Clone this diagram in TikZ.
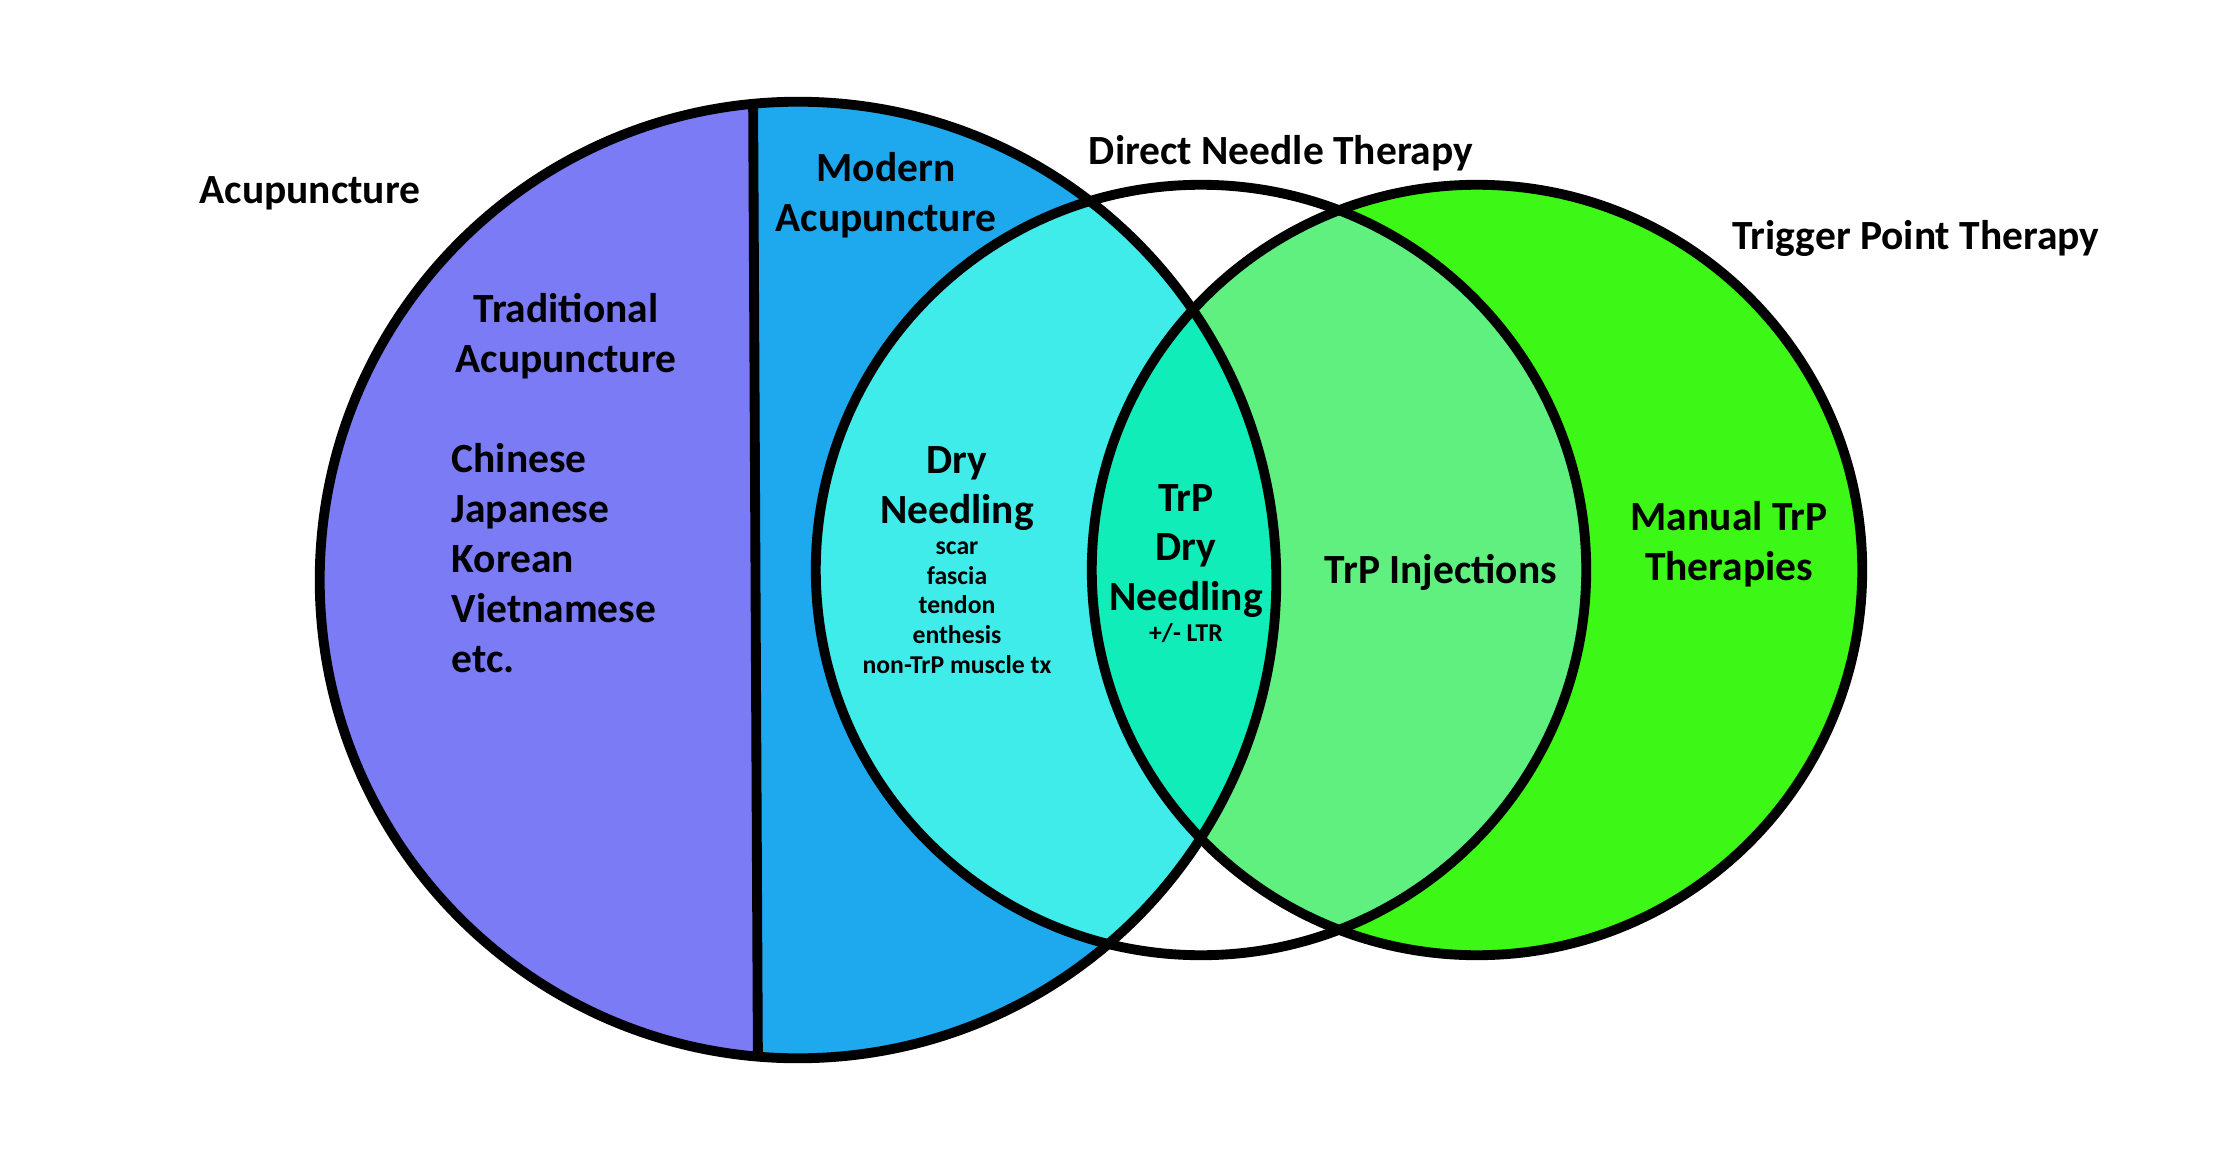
\documentclass[tikz,border=0pt]{standalone}
\usepackage{fontspec}
\setmainfont{Carlito}
\usetikzlibrary{positioning}
\definecolor{tradcol}{RGB}{123,123,245}
\definecolor{modcol}{RGB}{30,169,238}
\definecolor{dncol}{RGB}{64,236,234}
\definecolor{trpcol}{RGB}{16,237,185}
\definecolor{injcol}{RGB}{95,240,128}
\definecolor{tpcol}{RGB}{61,248,23}

\begin{document}
\begin{tikzpicture}[x=0.01cm,y=-0.01cm,
  outline/.style={draw=black,line width=2.8pt},
  heading/.style={font=\bfseries\fontsize{11.8}{14.2}\selectfont,align=center,inner sep=0pt},
  smalltext/.style={font=\bfseries\fontsize{7.3}{8.5}\selectfont,align=center,inner sep=0pt}]
\useasboundingbox (0,0) rectangle (2240,1149);
\coordinate (acu) at (798,580);
\coordinate (dnt) at (1201,570);
\coordinate (tpt) at (1477,570);
% acupuncture: traditional | modern
\begin{scope}
\clip (acu) circle[radius=4.78cm];
\fill[tradcol] (300,80) -- (753,80) -- (758,1080) -- (300,1080) -- cycle;
\fill[modcol] (753,80) -- (1300,80) -- (1300,1080) -- (758,1080) -- cycle;
\end{scope}
\fill[tpcol] (tpt) circle[radius=3.85cm];
% overlaps with direct needle therapy
\begin{scope}
\clip (dnt) circle[radius=3.85cm];
\fill[dncol] (acu) circle[radius=4.78cm];
\fill[injcol] (tpt) circle[radius=3.85cm];
\clip (acu) circle[radius=4.78cm];
\fill[trpcol] (tpt) circle[radius=3.85cm];
\end{scope}
% outlines
\begin{scope}
\clip (acu) circle[radius=4.78cm];
\draw[outline] (753,80) -- (758,1080);
\end{scope}
\draw[outline] (acu) circle[radius=4.78cm];
\draw[outline] (dnt) circle[radius=3.85cm];
\draw[outline] (tpt) circle[radius=3.85cm];

\node[heading] (acuLabel) at (310,193) {Acupuncture};
\node[heading] (modLabel) at (886,195) {Modern\\Acupuncture};
\node[heading] (dntLabel) at (1281,153) {Direct Needle Therapy};
\node[heading] (tptLabel) at (1916,238) {Trigger Point Therapy};
\node[heading] (tradLabel) at (566,336) {Traditional\\Acupuncture};
\node[heading,align=left,anchor=west] (tradList) at (451,558) {Chinese\\Japanese\\Korean\\Vietnamese\\etc.};
\node[heading] (dryLabel) at (957,489) {Dry\\Needling};
\node[smalltext,below=2.6pt of dryLabel] (dryList) {scar\\fascia\\tendon\\enthesis\\non-TrP muscle tx};
\node[heading] (trpLabel) at (1186,551) {TrP\\Dry\\Needling};
\node[smalltext,below=1.3pt of trpLabel] (ltrLabel) {+/- LTR};
\node[heading] (injLabel) at (1441,572) {TrP Injections};
\node[heading] (manLabel) at (1729,544) {Manual TrP\\Therapies};
\end{tikzpicture}
\end{document}
